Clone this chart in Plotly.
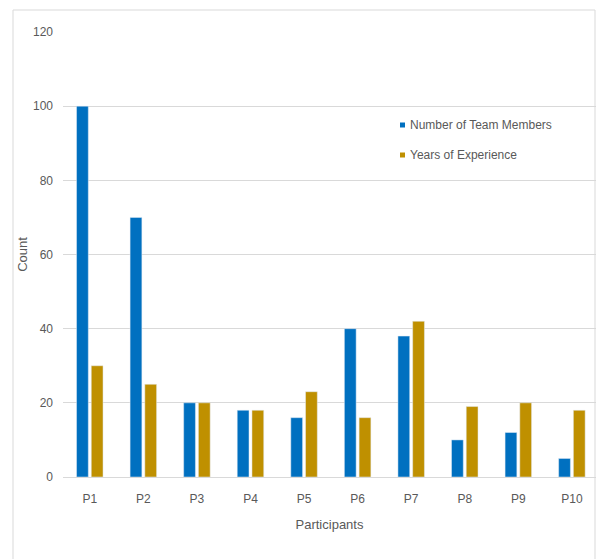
import plotly.graph_objects as go

# Data
participants = ["P1", "P2", "P3", "P4", "P5", "P6", "P7", "P8", "P9", "P10"]
team_members = [100, 70, 20, 18, 16, 40, 38, 10, 12, 5]
years_experience = [30, 25, 20, 18, 23, 16, 42, 19, 20, 18]
series_names = ["Number of Team Members", "Years of Experience"]
y_ticks = [0, 20, 40, 60, 80, 100, 120]

BLUE = "#0070C0"
GOLD = "#BF9000"
TEXT = "#595959"
GRID = "#D9D9D9"
FONT = "Liberation Sans, Arial, sans-serif"

W, H = 596, 559
L, R, T, B = 63, 0, 32, 82
PW, PH = W - L - R, H - T - B


def px_to_paper(x, y):
    return (x - L) / PW, (H - B - y) / PH


fig = go.Figure()
fig.add_trace(go.Bar(x=participants, y=team_members, name=series_names[0],
                     marker_color=BLUE, showlegend=False))
fig.add_trace(go.Bar(x=participants, y=years_experience, name=series_names[1],
                     marker_color=GOLD, showlegend=False))

# Outer chart frame
fx0, fy1 = px_to_paper(13, 10)
fx1, fy0 = px_to_paper(595, 575)
fig.add_shape(type="rect", xref="paper", yref="paper",
              x0=fx0, x1=fx1, y0=fy0, y1=fy1,
              line=dict(color=GRID, width=1), layer="below")

# Legend: small colour swatches with labels
for i, (name, col) in enumerate(zip(series_names, [BLUE, GOLD])):
    cy = 125 + 30 * i
    sx0, sy0 = px_to_paper(400, cy + 2.5)
    sx1, sy1 = px_to_paper(405, cy - 2.5)
    fig.add_shape(type="rect", xref="paper", yref="paper",
                  x0=sx0, x1=sx1, y0=sy0, y1=sy1,
                  fillcolor=col, line=dict(width=0))
    tx, ty = px_to_paper(408, cy)
    fig.add_annotation(xref="paper", yref="paper", x=tx, y=ty,
                       xanchor="left", yanchor="middle", showarrow=False,
                       text=name, font=dict(family=FONT, size=12, color=TEXT))

fig.update_layout(
    width=W, height=H,
    margin=dict(l=L, r=R, t=T, b=B, autoexpand=False),
    paper_bgcolor="white", plot_bgcolor="white",
    barmode="group", bargap=0.45, bargroupgap=0.2,
    font=dict(family=FONT, size=12, color=TEXT),
)
fig.update_xaxes(
    range=[-0.5, 9.45], showgrid=False, showline=False, ticks="",
    tickfont=dict(family=FONT, size=12, color=TEXT),
    ticklabelstandoff=13,
    title=dict(text="Participants", standoff=14,
               font=dict(family=FONT, size=13, color=TEXT)),
    automargin=False,
)
fig.update_yaxes(
    range=[0, 120], tickvals=y_ticks, showgrid=True, gridcolor=GRID,
    gridwidth=1, zeroline=True, zerolinecolor=GRID, zerolinewidth=1,
    showline=False, ticks="",
    tickfont=dict(family=FONT, size=12, color=TEXT),
    ticklabelstandoff=9,
    title=dict(text="Count", standoff=2,
               font=dict(family=FONT, size=13, color=TEXT)),
    automargin=False,
)

fig.write_html("out.html")
